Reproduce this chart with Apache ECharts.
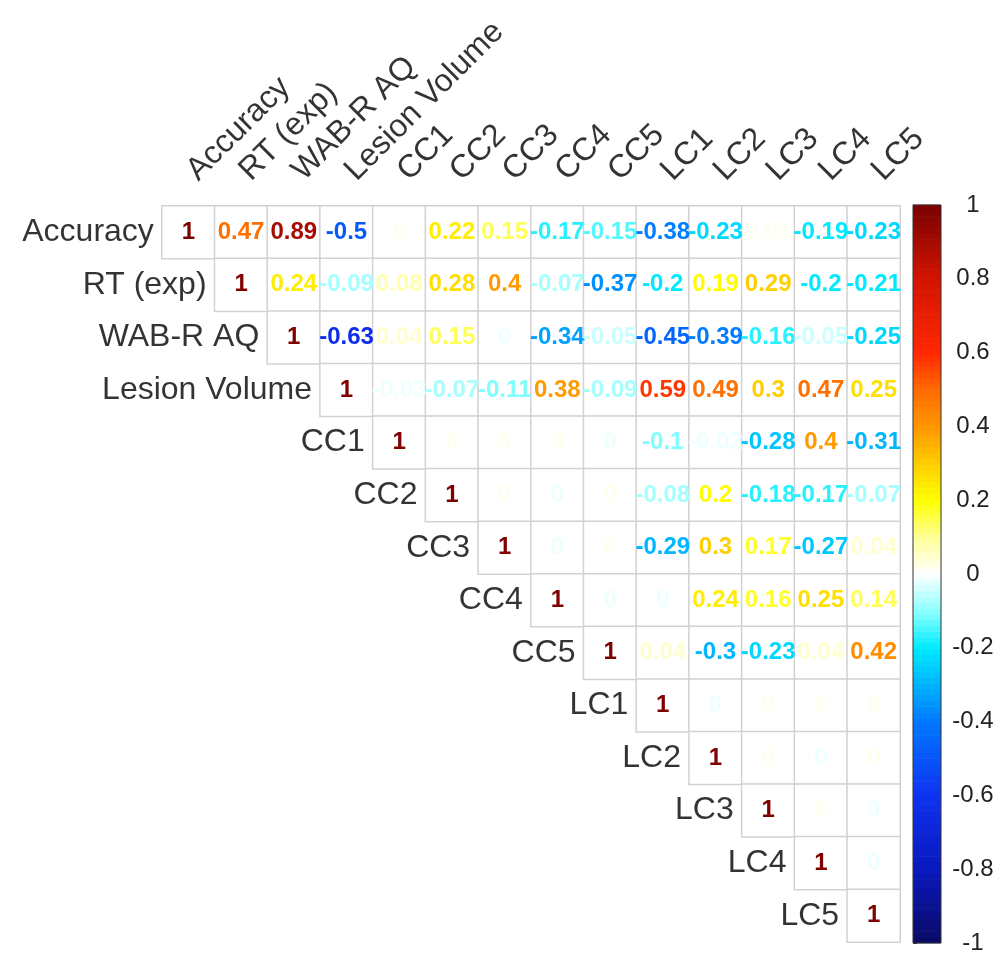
<!DOCTYPE html>
<html>
<head>
<meta charset="utf-8">
<script src="https://cdn.jsdelivr.net/npm/echarts@6/dist/echarts.min.js"></script>
<style>
html,body{margin:0;padding:0;background:#fff;}
#chart{width:997px;height:955px;}
</style>
</head>
<body>
<div id="chart"></div>
<script>
// ---- Data ----
const variables = ['Accuracy','RT (exp)','WAB-R AQ','Lesion Volume','CC1','CC2','CC3','CC4','CC5','LC1','LC2','LC3','LC4','LC5'];
// Upper-triangle rows, each starting at the diagonal (±0.003 = values shown as "0")
const rowAccuracy = [1, 0.47, 0.89, -0.5, 0.003, 0.22, 0.15, -0.17, -0.15, -0.38, -0.23, 0.01, -0.19, -0.23];
const rowRT       = [1, 0.24, -0.09, 0.08, 0.28, 0.4, -0.07, -0.37, -0.2, 0.19, 0.29, -0.2, -0.21];
const rowWAB      = [1, -0.63, 0.04, 0.15, -0.003, -0.34, -0.05, -0.45, -0.39, -0.16, -0.05, -0.25];
const rowLesion   = [1, -0.03, -0.07, -0.11, 0.38, -0.09, 0.59, 0.49, 0.3, 0.47, 0.25];
const rowCC1      = [1, 0.003, 0.003, 0.003, -0.003, -0.1, -0.02, -0.28, 0.4, -0.31];
const rowCC2      = [1, 0.003, -0.003, 0.003, -0.08, 0.2, -0.18, -0.17, -0.07];
const rowCC3      = [1, -0.003, 0.003, -0.29, 0.3, 0.17, -0.27, 0.04];
const rowCC4      = [1, -0.003, -0.003, 0.24, 0.16, 0.25, 0.14];
const rowCC5      = [1, 0.04, -0.3, -0.23, 0.04, 0.42];
const rowLC1      = [1, -0.003, 0.003, 0.003, 0.003];
const rowLC2      = [1, 0.003, -0.003, 0.003];
const rowLC3      = [1, 0.003, -0.003];
const rowLC4      = [1, -0.003];
const rowLC5      = [1];
const corrRows = [rowAccuracy,rowRT,rowWAB,rowLesion,rowCC1,rowCC2,rowCC3,rowCC4,rowCC5,rowLC1,rowLC2,rowLC3,rowLC4,rowLC5];

// ---- Colormap ----
const cmapStops = [
  [-1.0,[10,10,100]],[-0.8,[10,25,190]],[-0.6,[15,50,240]],[-0.4,[0,120,255]],
  [-0.3,[0,180,255]],[-0.2,[0,235,255]],[-0.1,[140,255,255]],[0.0,[255,255,255]],
  [0.1,[255,255,150]],[0.2,[255,255,0]],[0.3,[255,205,0]],[0.4,[255,150,0]],
  [0.5,[255,105,0]],[0.6,[255,40,0]],[0.8,[210,20,0]],[1.0,[120,0,0]]
];
function interp(t){
  for(let i=0;i<cmapStops.length-1;i++){
    const [a,ca]=cmapStops[i],[b,cb]=cmapStops[i+1];
    if(t>=a && t<=b){
      const f=(t-a)/(b-a);
      const c=ca.map((v,k)=>Math.round(v+(cb[k]-v)*f));
      return 'rgb('+c.join(',')+')';
    }
  }
  return t<0?'rgb(10,10,100)':'rgb(120,0,0)';
}
const NLEV=64;
function colorAt(v){
  let k=Math.floor((v+1)/2*NLEV); k=Math.max(0,Math.min(NLEV-1,k));
  return interp(-1+(k+0.5)*2/NLEV);
}

// ---- Build series data ----
const cells=[];
corrRows.forEach((row,i)=>{
  row.forEach((v,d)=>{
    const j=i+d;
    cells.push({value:[j,i,v],label:{color:colorAt(v)}});
  });
});
const rowLabelData = variables.map((n,i)=>[i,i]);
const colLabelData = variables.map((n,i)=>[i,0]);
const CB_BINS=128;
const cbBins=[];
for(let k=0;k<CB_BINS;k++){cbBins.push([0,-1+k*2/CB_BINS,-1+(k+1)*2/CB_BINS]);}

const FONT='"Liberation Sans", Arial, Helvetica, sans-serif';
const chart=echarts.init(document.getElementById('chart'));
chart.setOption({
  animation:false,
  backgroundColor:'#fff',
  textStyle:{fontFamily:FONT},
  grid:[
    {left:162,top:206,width:738,height:736},
    {left:913,top:205,width:28,height:738}
  ],
  xAxis:[
    {type:'category',gridIndex:0,position:'top',data:variables,show:false},
    {type:'value',gridIndex:1,min:0,max:1,show:false}
  ],
  yAxis:[
    {type:'category',gridIndex:0,data:variables,inverse:true,show:false},
    {type:'value',gridIndex:1,min:-1,max:1,interval:0.2,position:'right',
     axisLine:{show:true,lineStyle:{color:'#333',width:1}},
     axisTick:{show:true,inside:false,length:4,lineStyle:{color:'#333'}},
     splitLine:{show:false},
     axisLabel:{fontSize:24,color:'#222',margin:32,align:'center',fontFamily:FONT,
       formatter:v=>String(Math.round(v*10)/10)}}
  ],
  series:[
    {type:'heatmap',xAxisIndex:0,yAxisIndex:0,data:cells,silent:true,
     itemStyle:{color:'#ffffff',borderColor:'#d2d2d2',borderWidth:1.5},
     label:{show:true,fontSize:24,fontWeight:'bold',fontFamily:FONT,
       formatter:p=>String(Number(p.value[2].toFixed(2))+0)},
     emphasis:{disabled:true}},
    {type:'scatter',xAxisIndex:0,yAxisIndex:0,data:rowLabelData,symbolSize:1,silent:true,
     itemStyle:{color:'rgba(0,0,0,0)'},
     label:{show:true,position:'left',distance:34,fontSize:32,color:'#000',fontFamily:FONT,
       formatter:p=>variables[p.value[1]]}},
    {type:'scatter',xAxisIndex:0,yAxisIndex:0,data:colLabelData,symbolSize:1,silent:true,
     itemStyle:{color:'rgba(0,0,0,0)'},
     label:{show:true,position:'top',distance:45,rotate:45,align:'left',verticalAlign:'bottom',
       offset:[10.6,10.6],
       fontSize:32,color:'#000',fontFamily:FONT,
       formatter:p=>variables[p.value[0]]}},
    {type:'custom',xAxisIndex:1,yAxisIndex:1,data:cbBins,silent:true,encode:{x:0,y:[1,2]},
     renderItem:(params,api)=>{
       const lo=api.value(1),hi=api.value(2);
       const p1=api.coord([0,hi]),p2=api.coord([1,lo]);
       return {type:'rect',shape:{x:p1[0],y:p1[1]-0.3,width:p2[0]-p1[0],height:p2[1]-p1[1]+0.6},
               style:{fill:interp((lo+hi)/2)}};
     }},
    {type:'custom',xAxisIndex:1,yAxisIndex:1,data:[[0,-1,1]],silent:true,encode:{x:0,y:[1,2]},z:5,
     renderItem:(params,api)=>{
       const p1=api.coord([0,api.value(2)]),p2=api.coord([1,api.value(1)]);
       return {type:'rect',shape:{x:p1[0],y:p1[1],width:p2[0]-p1[0],height:p2[1]-p1[1]},
               style:{fill:'none',stroke:'#333',lineWidth:1}};
     }}
  ]
});
</script>
</body>
</html>
